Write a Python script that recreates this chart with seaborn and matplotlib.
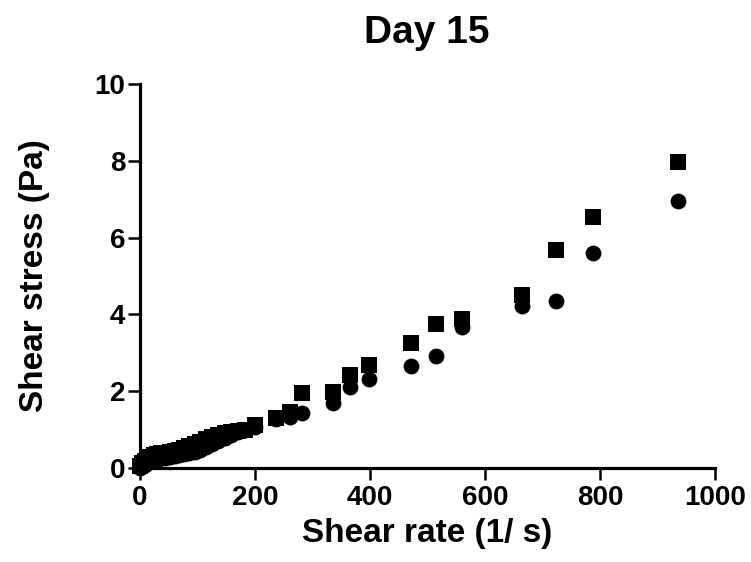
import matplotlib
matplotlib.use("Agg")
import matplotlib.pyplot as plt
import seaborn as sns
import pandas as pd

# Flow curve, day 15: shear stress vs shear rate for two samples
shear_rate = [0, 4, 8, 13, 18, 24, 30, 37, 44, 52, 60, 68, 77, 86, 95, 105,
              115, 125, 136, 147, 158, 170, 182, 200, 236, 261, 282, 336, 365,
              398, 472, 515, 560, 665, 724, 787, 936]
stress_a = [0.05, 0.12, 0.18, 0.24, 0.29, 0.33, 0.36, 0.38, 0.40, 0.42, 0.44,
            0.47, 0.51, 0.57, 0.62, 0.68, 0.76, 0.82, 0.87, 0.90, 0.93, 0.96,
            1.00, 1.13, 1.30, 1.47, 1.95, 1.98, 2.42, 2.68, 3.26, 3.75, 3.89,
            4.50, 5.67, 6.53, 7.96]
stress_b = [0.00, 0.04, 0.08, 0.12, 0.16, 0.19, 0.22, 0.25, 0.27, 0.29, 0.32,
            0.35, 0.37, 0.40, 0.42, 0.48, 0.55, 0.62, 0.70, 0.77, 0.86, 0.94,
            1.00, 1.06, 1.27, 1.34, 1.43, 1.68, 2.11, 2.32, 2.66, 2.92, 3.66,
            4.21, 4.36, 5.59, 6.95]

x_ticks = [0, 200, 400, 600, 800, 1000]
y_ticks = [0, 2, 4, 6, 8, 10]

df_a = pd.DataFrame({"rate": shear_rate, "stress": stress_a})
df_b = pd.DataFrame({"rate": shear_rate, "stress": stress_b})

sns.set_style("ticks")
plt.rcParams["font.family"] = ["Liberation Sans", "DejaVu Sans"]
plt.rcParams["font.weight"] = "bold"
plt.rcParams["text.color"] = "black"
plt.rcParams["axes.labelcolor"] = "black"
plt.rcParams["xtick.color"] = "black"
plt.rcParams["ytick.color"] = "black"

fig = plt.figure(figsize=(7.51, 5.62), dpi=100)
ax = fig.add_axes([140 / 751, 1 - 468 / 562, 575 / 751, 384 / 562])

sns.scatterplot(data=df_a, x="rate", y="stress", marker="s", s=130,
                color="black", linewidth=0, ax=ax, clip_on=False, zorder=3)
sns.scatterplot(data=df_b, x="rate", y="stress", marker="o", s=130,
                color="black", linewidth=0, ax=ax, clip_on=False, zorder=3)

ax.set_xlim(0, 1000)
ax.set_ylim(0, 10)
ax.set_xticks(x_ticks)
ax.set_yticks(y_ticks)
sns.despine(ax=ax)
for side in ("left", "bottom"):
    ax.spines[side].set_linewidth(2.3)
    ax.spines[side].set_color("black")
ax.tick_params(axis="both", which="major", length=8.5, width=1.8,
               color="black", labelcolor="black", labelsize=20,
               direction="out")
ax.tick_params(axis="x", pad=4)
ax.tick_params(axis="y", pad=2)
for lab in ax.get_xticklabels() + ax.get_yticklabels():
    lab.set_fontweight("bold")

ax.set_xlabel("Shear rate (1/ s)", fontsize=24, fontweight="bold",
              color="black", labelpad=5)
ax.set_ylabel("Shear stress (Pa)", fontsize=24, fontweight="bold",
              color="black", labelpad=32)
fig.text(0.5685, 1 - 33 / 562, "Day 15", ha="center", va="center",
         fontsize=28, fontweight="bold", color="black")

fig.savefig("out.png", dpi=100, facecolor="white")
